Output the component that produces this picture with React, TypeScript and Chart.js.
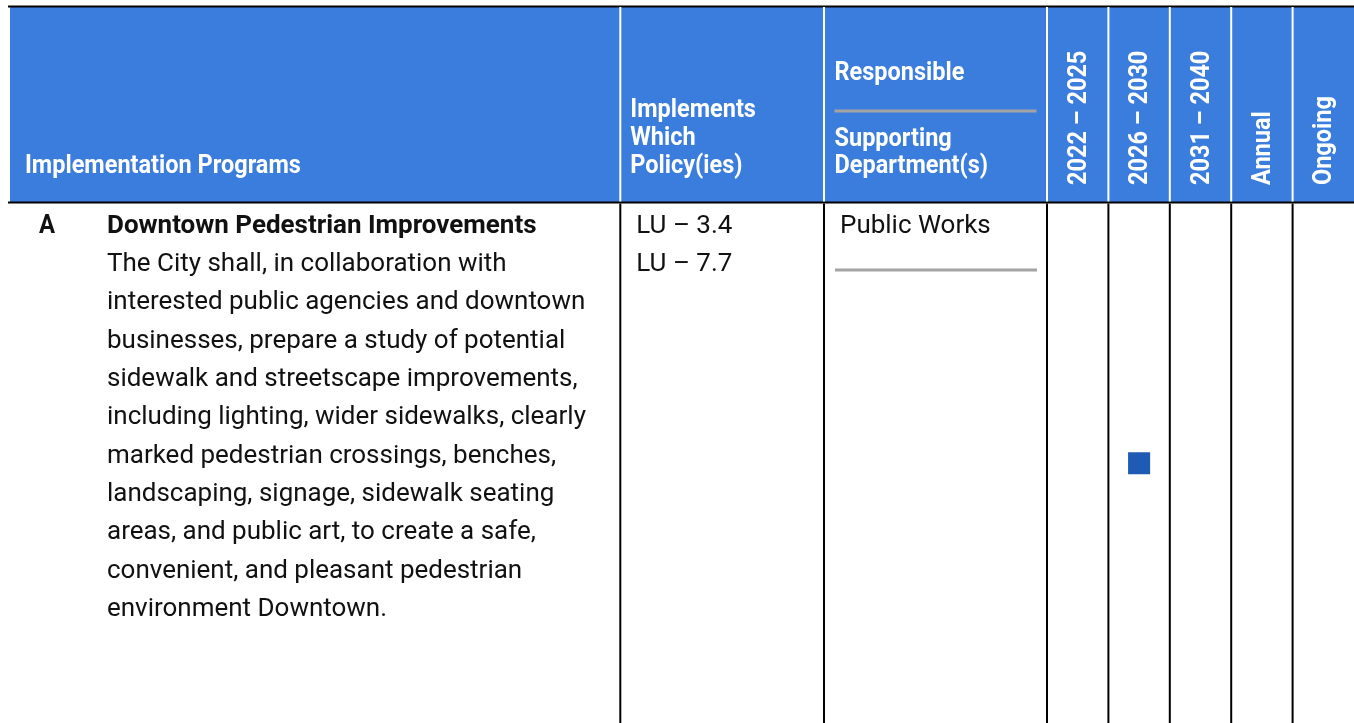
import React, { useEffect, useRef } from "react";
import { Chart, registerables } from "chart.js";

Chart.register(...registerables);

// ---- data ----
const timingColumns = ["2022 – 2025", "2026 – 2030", "2031 – 2040", "Annual", "Ongoing"];
const programIds = ["A"];
const programTitles = ["Downtown Pedestrian Improvements"];
const programDescriptionLines = [
  [
    "The City shall, in collaboration with",
    "interested public agencies and downtown",
    "businesses, prepare a study of potential",
    "sidewalk and streetscape improvements,",
    "including lighting, wider sidewalks, clearly",
    "marked pedestrian crossings, benches,",
    "landscaping, signage, sidewalk seating",
    "areas, and public art, to create a safe,",
    "convenient, and pleasant pedestrian",
    "environment Downtown.",
  ],
];
const programPolicies = [["LU – 3.4", "LU – 7.7"]];
const responsibleDepartments = ["Public Works"];
const supportingDepartments = [""];
const programTiming = ["2026 – 2030"];

const headerProgram = "Implementation Programs";
const headerPolicy = ["Implements", "Which", "Policy(ies)"];
const headerResponsible = "Responsible";
const headerSupporting = ["Supporting", "Department(s)"];

// ---- styles / layout ----
const W = 1354;
const H = 723;
const HEADER_TOP = 7;
const HEADER_BOTTOM = 202.5;
const COL_EDGES = [8, 620.3, 824, 1047]; // left, policy, department, timing start
const BLUE = "#3B7DDC";
const MARK = "#1F5BB5";
const GRAY = "#A3A3A3";
const TEXT = "#111111";
const FAMILY = "Roboto, 'Noto Sans', sans-serif";
const SX_HEAD = 0.94;
const SX_BODY = 0.98;

function txt(
  ctx: CanvasRenderingContext2D,
  s: string,
  x: number,
  y: number,
  font: string,
  color: string,
  sx: number,
  rot = 0
) {
  ctx.save();
  ctx.translate(x, y);
  if (rot) ctx.rotate(rot);
  ctx.scale(sx, 1);
  ctx.font = font;
  ctx.fillStyle = color;
  ctx.textAlign = "left";
  ctx.textBaseline = "alphabetic";
  ctx.fillText(s, 0, 0);
  ctx.restore();
}

const tablePlugin = {
  id: "tablePlugin",
  beforeDatasetsDraw(chart: any) {
    const ctx: CanvasRenderingContext2D = chart.ctx;
    const xs = chart.scales.x;
    const ys = chart.scales.y;
    const n = timingColumns.length;
    const step = (xs.right - xs.left) / n;
    const timingEdges = [] as number[];
    for (let k = 0; k <= n; k++) timingEdges.push(xs.left + k * step);
    const edges = [...COL_EDGES.slice(0, 3), ...timingEdges.slice(0, n)];

    ctx.save();
    // header band
    ctx.fillStyle = BLUE;
    ctx.fillRect(10, HEADER_TOP, W - 10, HEADER_BOTTOM - HEADER_TOP);
    // top line
    ctx.fillStyle = "#000";
    ctx.fillRect(8, 5.5, W - 8, 2);
    // bottom header line
    ctx.fillRect(8, HEADER_BOTTOM - 1, W - 8, 2);

    // white separators in header, black in body
    for (let i = 1; i < edges.length; i++) {
      const x = edges[i];
      ctx.fillStyle = "#FFFFFF";
      ctx.fillRect(x - 1, HEADER_TOP, 2, HEADER_BOTTOM - 1 - HEADER_TOP);
      ctx.fillStyle = "#000";
      ctx.fillRect(x - 1, HEADER_BOTTOM + 1, 2, H - HEADER_BOTTOM);
    }

    // header texts
    const hf = `bold 25px ${FAMILY}`;
    txt(ctx, headerProgram, 25, 173.3, hf, "#fff", SX_HEAD);
    headerPolicy.forEach((s, i) => txt(ctx, s, COL_EDGES[1] + 10, 117.3 + i * 28, hf, "#fff", SX_HEAD));
    txt(ctx, headerResponsible, COL_EDGES[2] + 10.5, 80, hf, "#fff", SX_HEAD);
    ctx.fillStyle = GRAY;
    ctx.fillRect(COL_EDGES[2] + 10.5, 109.5, 202, 3);
    headerSupporting.forEach((s, i) => txt(ctx, s, COL_EDGES[2] + 10.5, 145.7 + i * 27.6, hf, "#fff", SX_HEAD));
    timingColumns.forEach((s, i) => {
      const cx = xs.getPixelForValue(i);
      txt(ctx, s, cx + 8, 185, hf, "#fff", SX_HEAD, -Math.PI / 2);
    });

    // body rows
    const bf = `bold 26.5px ${FAMILY}`;
    const rf = `26.5px ${FAMILY}`;
    const LH = 38.35;
    programIds.forEach((id, r) => {
      const top = ys.top; // single row spans chart area
      const b0 = top + 29;
      txt(ctx, id, 39, b0, `bold 26px ${FAMILY}`, TEXT, 0.92);
      txt(ctx, programTitles[r], 107, b0, bf, TEXT, SX_BODY);
      programDescriptionLines[r].forEach((s, i) => txt(ctx, s, 107, b0 + (i + 1) * LH, rf, TEXT, SX_BODY));
      programPolicies[r].forEach((s, i) => txt(ctx, s, COL_EDGES[1] + 16, b0 + i * LH, rf, TEXT, SX_BODY));
      txt(ctx, responsibleDepartments[r], COL_EDGES[2] + 16, b0, rf, TEXT, SX_BODY);
      ctx.fillStyle = GRAY;
      ctx.fillRect(COL_EDGES[2] + 11, b0 + 36, 202, 3);
      if (supportingDepartments[r])
        txt(ctx, supportingDepartments[r], COL_EDGES[2] + 16, b0 + 2 * LH, rf, TEXT, SX_BODY);
    });
    ctx.restore();
  },
};

export default function App() {
  const ref = useRef<HTMLCanvasElement>(null);
  useEffect(() => {
    if (!ref.current) return;
    const chart = new Chart(ref.current, {
      type: "scatter",
      data: {
        datasets: [
          {
            data: programTiming.map((t, i) => ({ x: t, y: programIds[i] })) as any,
            pointStyle: "rect",
            pointRadius: 15.6,
            pointHoverRadius: 15.6,
            backgroundColor: MARK,
            borderWidth: 0,
          },
        ],
      },
      options: {
        animation: false,
        responsive: false,
        devicePixelRatio: 1,
        events: [],
        layout: {
          autoPadding: false,
          padding: { left: COL_EDGES[3], top: HEADER_BOTTOM + 1, right: 0, bottom: -2 },
        },
        plugins: { legend: { display: false }, tooltip: { enabled: false } },
        scales: {
          x: { type: "category", labels: timingColumns, offset: true, display: false },
          y: { type: "category", labels: programIds, offset: true, display: false },
        },
      },
      plugins: [tablePlugin],
    });
    return () => chart.destroy();
  }, []);
  return (
    <div style={{ position: "fixed", left: 0, top: 0, width: W, height: H, background: "#fff" }}>
      <canvas ref={ref} width={W} height={H} style={{ display: "block" }} />
    </div>
  );
}
